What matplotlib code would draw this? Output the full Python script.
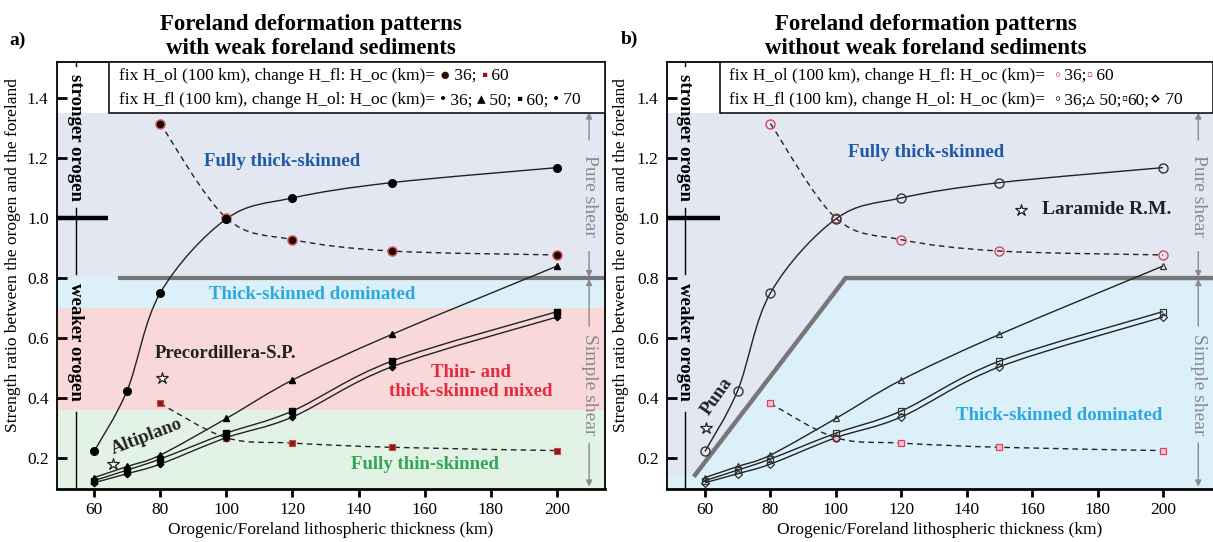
import matplotlib
matplotlib.use('Agg')
import matplotlib.pyplot as plt
from matplotlib.path import Path
from matplotlib.patches import PathPatch, Rectangle, Polygon

plt.rcParams['font.family'] = ['Liberation Serif', 'DejaVu Sans']

# lithospheric thickness (km)
thick_fl = [80, 100, 120, 150, 200]              # fix H_ol = 100 km, vary H_fl
thick_ol = [60, 70, 80, 100, 120, 150, 200]      # fix H_fl = 100 km, vary H_ol

# strength ratio orogen / foreland
fl_oc36 = [1.315, 1.0, 0.928, 0.89, 0.877]
fl_oc60 = [0.382, 0.268, 0.25, 0.236, 0.225]
ol_oc36 = [0.222, 0.425, 0.75, 0.997, 1.067, 1.118, 1.168]
ol_oc50 = [0.135, 0.172, 0.21, 0.332, 0.46, 0.612, 0.84]
ol_oc60 = [0.125, 0.16, 0.197, 0.283, 0.357, 0.523, 0.688]
ol_oc70 = [0.118, 0.148, 0.18, 0.268, 0.337, 0.504, 0.67]

# natural examples
cases_a = ['Precordillera-S.P.', 'Altiplano']
cases_a_x = [80.4, 65.7]
cases_a_y = [0.468, 0.18]
cases_b = ['Laramide R.M.', 'Puna']
cases_b_x = [156.6, 60.2]
cases_b_y = [1.027, 0.299]

XTICKS = [60, 80, 100, 120, 140, 160, 180, 200]
YTICKS = [0.2, 0.4, 0.6, 0.8, 1.0, 1.2, 1.4]
YMIN, YMAX = 0.097, 1.52

BLUEGRAY = '#e2e7f1'
CYAN = '#dcf0f9'
PINK = '#f8d8d9'
GREEN = '#e2f2e5'
SHEAR = '#8a8a8a'


def smooth_path(xs, ys):
    # Catmull-Rom segments expressed as cubic Bezier curves
    n = len(xs)
    verts = [(xs[0], ys[0])]
    codes = [Path.MOVETO]
    for i in range(n - 1):
        i0, i3 = max(i - 1, 0), min(i + 2, n - 1)
        c1 = (xs[i] + (xs[i + 1] - xs[i0]) / 6, ys[i] + (ys[i + 1] - ys[i0]) / 6)
        c2 = (xs[i + 1] - (xs[i3] - xs[i]) / 6, ys[i + 1] - (ys[i3] - ys[i]) / 6)
        verts += [c1, c2, (xs[i + 1], ys[i + 1])]
        codes += [Path.CURVE4] * 3
    return Path(verts, codes)


def curve(ax, xs, ys, dashed=False):
    ls = (0, (4, 3)) if dashed else '-'
    ax.add_patch(PathPatch(smooth_path(xs, ys), fill=False, ec='#222222',
                           lw=1.0, ls=ls, zorder=3))


def legend_row(ax, x, y, pieces, fs=12.5):
    t = ax.text(x, y, pieces[0][0], color=pieces[0][1], fontsize=fs,
                va='center', zorder=6)
    for s, c in pieces[1:]:
        t = ax.annotate(s, xy=(1, 0.5), xycoords=t, va='center', ha='left',
                        color=c, fontsize=fs, zorder=6)


def frame(ax, xlim, right_spine=True):
    ax.set_xlim(*xlim)
    ax.set_ylim(YMIN, YMAX)
    ax.set_xticks(XTICKS)
    ax.set_yticks(YTICKS)
    ax.set_yticklabels(['%.1f' % v for v in YTICKS])
    ax.tick_params(axis='x', direction='out', length=6, width=2, labelsize=12.5, pad=3)
    ax.tick_params(axis='y', direction='in', length=7, width=2, labelsize=12.5, pad=6)
    for s in ax.spines.values():
        s.set_linewidth(1.3)
    ax.spines['bottom'].set_linewidth(2)
    ax.spines['right'].set_visible(right_spine)
    ax.set_xlabel('Orogenic/Foreland lithospheric thickness (km)', fontsize=12.5, labelpad=3)
    ax.set_ylabel('Strength ratio between the orogen and the foreland', fontsize=12.5)


def orogen_axis(ax, x, x_end):
    # stronger / weaker orogen scale on the left
    for y0, y1 in [(1.52, 1.508), (1.035, 0.815), (0.355, 0.105)]:
        ax.plot([x, x], [y0, y1], color='k', lw=1, zorder=4)
    ax.plot([ax.get_xlim()[0], x_end], [1.0, 1.0], color='k', lw=3.2,
            solid_capstyle='butt', zorder=4)
    ax.text(x, 1.27, 'stronger orogen', rotation=-90, ha='center', va='center',
            fontsize=13.5, weight='bold', zorder=5)
    ax.text(x, 0.586, 'weaker orogen', rotation=-90, ha='center', va='center',
            fontsize=13.5, weight='bold', zorder=5)


def shear_labels(ax, x):
    arrow = dict(arrowstyle='-|>', color=SHEAR, lw=1, mutation_scale=9,
                 shrinkA=0, shrinkB=0)
    for y0, y1 in [(1.26, 1.352), (0.888, 0.803), (0.64, 0.797), (0.25, 0.105)]:
        ax.annotate('', xy=(x, y1), xytext=(x, y0), arrowprops=arrow, zorder=4)
    ax.text(x, 1.074, 'Pure shear', rotation=-90, ha='center', va='center',
            fontsize=14, color=SHEAR, zorder=5)
    ax.text(x, 0.445, 'Simple shear', rotation=-90, ha='center', va='center',
            fontsize=14, color=SHEAR, zorder=5)


def legend_box(ax):
    x0 = 64.6
    x1 = ax.get_xlim()[1]
    ax.add_patch(Rectangle((x0, 1.35), x1 - x0, YMAX - 1.35, fc='white',
                           ec='k', lw=1.1, zorder=5))


fig = plt.figure(figsize=(12.13, 5.42), dpi=100)
ax_a = fig.add_axes([57 / 1213, 53 / 542, 548 / 1213, 427 / 542])
ax_b = fig.add_axes([667 / 1213, 53 / 542, 546 / 1213, 427 / 542])

# ---------------- a) with weak foreland sediments ----------------
ax = ax_a
frame(ax, (48.8, 214.5))
ax.axhspan(0.8, 1.35, color=BLUEGRAY, zorder=0, lw=0)
ax.axhspan(0.7, 0.8, color=CYAN, zorder=0, lw=0)
ax.axhspan(0.36, 0.7, color=PINK, zorder=0, lw=0)
ax.axhspan(YMIN, 0.36, color=GREEN, zorder=0, lw=0)
ax.plot([68, 214.5], [0.8, 0.8], color='#777777', lw=3, zorder=2)

curve(ax, thick_fl, fl_oc36, dashed=True)
curve(ax, thick_fl, fl_oc60, dashed=True)
for ys in [ol_oc36, ol_oc50, ol_oc60, ol_oc70]:
    curve(ax, thick_ol, ys)
ax.plot(thick_fl, fl_oc36, 'o', ms=6.5, mfc='#1c0404', mec='#d85a5a', mew=1.1, ls='none', zorder=4)
ax.plot(thick_fl, fl_oc60, 's', ms=5, mfc='#8b1a1a', mec='#c04848', mew=0.8, ls='none', zorder=4)
ax.plot(thick_ol, ol_oc36, 'o', ms=5.5, color='k', ls='none', zorder=4)
ax.plot(thick_ol, ol_oc50, '^', ms=4, color='k', ls='none', zorder=4)
ax.plot(thick_ol, ol_oc60, 's', ms=4, color='k', ls='none', zorder=4)
ax.plot(thick_ol, ol_oc70, 'D', ms=3.3, color='k', ls='none', zorder=4)

ax.plot(cases_a_x, cases_a_y, '*', ms=9, mfc='white', mec='#222222', mew=0.9, ls='none', zorder=4)
ax.text(99.7, 0.55, cases_a[0], fontsize=13.5, weight='bold', color='#222222',
        ha='center', va='center', zorder=5)
ax.text(76.0, 0.272, cases_a[1], fontsize=13.5, weight='bold', color='#222222',
        ha='center', va='center', rotation=21, zorder=5)

ax.text(117, 1.19, 'Fully thick-skinned', fontsize=13.5, weight='bold', color='#1f5aa6',
        ha='center', va='center', zorder=5)
ax.text(126, 0.745, 'Thick-skinned dominated', fontsize=13.5, weight='bold', color='#2aa8df',
        ha='center', va='center', zorder=5)
ax.text(173.9, 0.453, 'Thin- and\nthick-skinned mixed', fontsize=13.5, weight='bold',
        color='#e62a3b', ha='center', va='center', linespacing=1.15, zorder=5)
ax.text(160, 0.177, 'Fully thin-skinned', fontsize=13.5, weight='bold', color='#31a752',
        ha='center', va='center', zorder=5)

orogen_axis(ax, 54.4, 64.3)
shear_labels(ax, 209.7)
legend_box(ax)
legend_row(ax, 67.6, 1.473, [('fix H_ol (100 km), change H_fl: H_oc (km)= ', 'k'),
                             ('\u25cf', '#3a0707'), (' 36; ', 'k'),
                             ('\u25aa', '#8b1a1a'), (' 60', 'k')])
legend_row(ax, 67.6, 1.392, [('fix H_fl (100 km), change H_ol: H_oc (km)= ', 'k'),
                             ('\u2022', 'k'), (' 36; ', 'k'), ('\u25b4', 'k'), (' 50; ', 'k'),
                             ('\u25aa', 'k'), (' 60; ', 'k'), ('\u2022', 'k'), (' 70', 'k')])

# ---------------- b) without weak foreland sediments ----------------
ax = ax_b
frame(ax, (48.4, 215.3), right_spine=False)
ax.axhspan(YMIN, 1.35, color=BLUEGRAY, zorder=0, lw=0)
ax.add_patch(Polygon([(48.4, YMIN), (48.4, 0.14), (57, 0.14), (103, 0.8),
                      (215.3, 0.8), (215.3, YMIN)], closed=True, fc=CYAN, lw=0, zorder=0))
ax.plot([57, 103, 215.3], [0.144, 0.8, 0.8], color='#777777', lw=3.2, zorder=2,
        solid_joinstyle='miter')

curve(ax, thick_fl, fl_oc36, dashed=True)
curve(ax, thick_fl, fl_oc60, dashed=True)
for ys in [ol_oc36, ol_oc50, ol_oc60, ol_oc70]:
    curve(ax, thick_ol, ys)
ax.plot(thick_fl, fl_oc36, 'o', ms=6.5, mfc='none', mec='#e04058', mew=1.0, ls='none', zorder=4)
ax.plot(thick_fl, fl_oc60, 's', ms=5, mfc='#f6c8cf', mec='#e04058', mew=0.9, ls='none', zorder=4)
ax.plot(thick_ol, ol_oc36, 'o', ms=6.5, mfc='none', mec='#333333', mew=1.0, ls='none', zorder=4)
ax.plot(thick_ol, ol_oc50, '^', ms=5, mfc='none', mec='#333333', mew=0.9, ls='none', zorder=4)
ax.plot(thick_ol, ol_oc60, 's', ms=5, mfc='none', mec='#333333', mew=0.9, ls='none', zorder=4)
ax.plot(thick_ol, ol_oc70, 'D', ms=4.2, mfc='none', mec='#333333', mew=0.9, ls='none', zorder=4)

ax.plot(cases_b_x, cases_b_y, '*', ms=9, mfc='white', mec='#222222', mew=0.9, ls='none', zorder=4)
ax.text(163, 1.03, cases_b[0], fontsize=14, weight='bold', color='#222222',
        ha='left', va='center', zorder=5)
ax.text(63.6, 0.407, cases_b[1], fontsize=13.5, weight='bold', color='#222222',
        ha='center', va='center', rotation=55, zorder=5)

ax.text(127.6, 1.217, 'Fully thick-skinned', fontsize=13.5, weight='bold', color='#1f5aa6',
        ha='center', va='center', zorder=5)
ax.text(168.3, 0.343, 'Thick-skinned dominated', fontsize=13.5, weight='bold', color='#2aa8df',
        ha='center', va='center', zorder=5)

orogen_axis(ax, 53.9, 64.6)
shear_labels(ax, 210.8)
legend_box(ax)
legend_row(ax, 67.3, 1.473, [('fix H_ol (100 km), change H_fl: H_oc (km)=  ', 'k'),
                             ('\u25e6', '#e04058'), (' 36;', 'k'),
                             ('\u25ab', '#e04058'), (' 60', 'k')])
legend_row(ax, 67.3, 1.392, [('fix H_fl (100 km), change H_ol: H_oc (km)=  ', 'k'),
                             ('\u25e6', 'k'), (' 36;', 'k'), ('\u25b5', 'k'), (' 50;', 'k'),
                             ('\u25ab', 'k'), ('60;', 'k'), ('\u22c4', 'k'), (' 70', 'k')])

for ax, xl in [(ax_a, -0.066), (ax_b, -0.07)]:
    ax.yaxis.set_label_coords(xl, 0.548)

fig.text(0.256, 0.933, 'Foreland deformation patterns\nwith weak foreland sediments',
         ha='center', va='center', fontsize=16.5, weight='bold', linespacing=1.2)
fig.text(0.763, 0.933, 'Foreland deformation patterns\nwithout weak foreland sediments',
         ha='center', va='center', fontsize=16.5, weight='bold', linespacing=1.2)
fig.text(0.008, 0.925, 'a)', fontsize=14, weight='bold', va='center')
fig.text(0.512, 0.928, 'b)', fontsize=14, weight='bold', va='center')

fig.savefig('out.png', dpi=100)
